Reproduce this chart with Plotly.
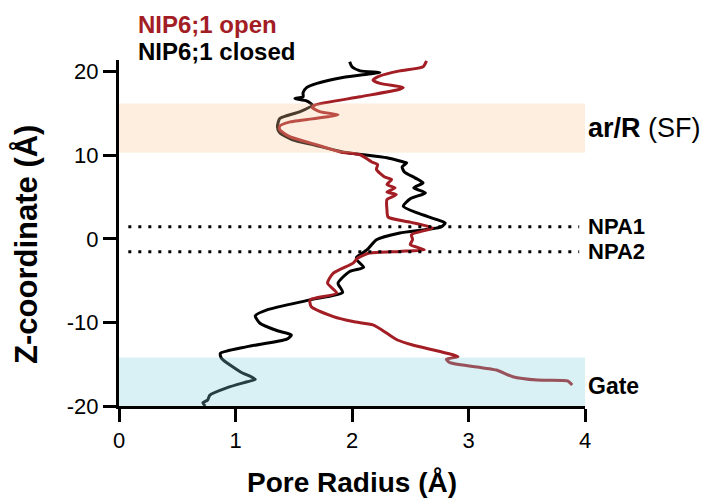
import plotly.graph_objects as go

# NIP6;1 open (red) : pore radius (Å) vs z-coordinate (Å)
open_radius = [2.64, 2.61, 2.41, 2.24, 2.18, 2.24, 2.44, 2.41, 2.07, 1.68, 1.66, 1.73, 1.88, 1.79,
               1.47, 1.38, 1.38, 1.47, 1.70, 1.90, 2.07, 2.17, 2.22, 2.21, 2.28, 2.34, 2.30, 2.37,
               2.30, 2.38, 2.30, 2.30, 2.31, 2.50, 2.69, 2.51, 2.52, 2.50, 2.62, 2.41, 2.15, 2.05,
               2.01, 1.84, 1.79, 1.87, 1.64, 1.65, 1.84, 2.01, 2.18, 2.30, 2.39, 2.52, 2.91, 2.81,
               2.84, 3.24, 3.38, 3.59, 3.85, 3.89]
open_z = [21.3, 20.6, 20.1, 19.5, 19.0, 18.6, 18.1, 17.9, 17.0, 16.0, 15.7, 15.2, 14.85, 14.6,
          14.0, 13.5, 13.05, 12.2, 11.25, 10.4, 10.06, 9.2, 8.9, 8.3, 7.4, 7.1, 6.5, 6.1,
          5.6, 5.3, 4.7, 3.5, 2.6, 2.0, 1.3, 0.5, -0.1, -0.7, -1.3, -1.5, -1.7, -2.3,
          -2.9, -4.1, -5.3, -6.5, -7.3, -8.1, -9.3, -9.9, -10.3, -11.3, -12.1, -12.7, -14.1, -14.4,
          -14.8, -15.7, -16.5, -16.9, -17.0, -17.5]

# NIP6;1 closed (black)
closed_radius = [1.98, 2.00, 2.07, 2.24, 2.13, 1.92, 1.70, 1.61, 1.58, 1.58, 1.51, 1.61, 1.66, 1.55,
                 1.38, 1.36, 1.38, 1.49, 1.67, 1.92, 2.30, 2.44, 2.47, 2.43, 2.45, 2.54, 2.61, 2.53,
                 2.63, 2.50, 2.44, 2.56, 2.73, 2.80, 2.76, 2.41, 2.21, 2.13, 2.04, 2.04, 2.10, 1.98,
                 1.88, 1.92, 1.64, 1.27, 1.17, 1.21, 1.36, 1.48, 1.44, 1.10, 0.87, 0.88, 1.04, 1.17,
                 1.10, 0.93, 0.78, 0.76, 0.72, 0.74]
closed_z = [21.2, 20.6, 20.1, 19.9, 19.7, 19.3, 18.6, 18.1, 17.5, 17.0, 16.8, 16.5, 16.0, 15.2,
            14.4, 13.4, 12.7, 11.85, 11.25, 10.4, 9.7, 9.2, 9.1, 8.6, 8.0, 7.3, 6.7, 6.1,
            5.5, 4.8, 3.9, 3.1, 2.3, 1.9, 1.4, 0.7, -0.1, -1.3, -2.2, -2.5, -3.4, -3.9,
            -5.3, -6.4, -7.3, -8.5, -9.2, -10.1, -11.0, -11.5, -12.0, -12.9, -13.7, -14.3, -15.9, -16.8,
            -17.1, -17.8, -18.7, -19.3, -19.6, -20.0]

# Regions (z ranges) and constriction markers
sf_region = [10.3, 16.2]
gate_region = [-20.0, -14.2]
npa_levels = [1.45, -1.55]
npa_labels = ["NPA1", "NPA2"]

# tick labels
x_ticks = [0, 1, 2, 3, 4]
y_ticks = [-20, -10, 0, 10, 20]
y_ticktext = ["-20", "-10", "0", "10", "20"]

RED = "#A31D24"
FONT = "Arial, Liberation Sans, Helvetica, sans-serif"

fig = go.Figure()
fig.add_trace(go.Scatter(x=closed_radius, y=closed_z, mode="lines",
                         line=dict(color="black", width=3, shape="spline", smoothing=0.6),
                         name="NIP6;1 closed", showlegend=False))
fig.add_trace(go.Scatter(x=open_radius, y=open_z, mode="lines",
                         line=dict(color=RED, width=3, shape="spline", smoothing=0.6),
                         name="NIP6;1 open", showlegend=False))

# shaded regions (drawn above lines, semi-transparent)
fig.add_shape(type="rect", xref="x", yref="y", x0=0, x1=4, y0=sf_region[0], y1=sf_region[1],
              fillcolor="rgba(250,200,150,0.3)", line=dict(width=0), layer="above")
fig.add_shape(type="rect", xref="x", yref="y", x0=0, x1=4, y0=gate_region[0], y1=gate_region[1],
              fillcolor="rgba(130,205,218,0.3)", line=dict(width=0), layer="above")

for lvl in npa_levels:
    fig.add_shape(type="line", xref="x", yref="y", x0=0.08, x1=3.95, y0=lvl, y1=lvl,
                  line=dict(color="black", width=3, dash="3px,7px"))

# right-hand labels
fig.add_annotation(x=4, y=sum(sf_region) / 2, xref="x", yref="y", xanchor="left", yanchor="middle",
                   xshift=1, showarrow=False, text="<b>ar/R</b> (SF)",
                   font=dict(family=FONT, size=27, color="black"))
for lvl, lab in zip(npa_levels, npa_labels):
    fig.add_annotation(x=4, y=lvl, xref="x", yref="y", xanchor="left", yanchor="middle",
                       xshift=1, showarrow=False, text=f"<b>{lab}</b>",
                       font=dict(family=FONT, size=22, color="black"))
fig.add_annotation(x=4, y=-17.6, xref="x", yref="y", xanchor="left", yanchor="middle",
                   xshift=1, showarrow=False, text="<b>Gate</b>",
                   font=dict(family=FONT, size=23, color="black"))

# legend labels
fig.add_annotation(x=0.036, y=1.104, xref="paper", yref="paper", xanchor="left", yanchor="middle",
                   showarrow=False, text="<b>NIP6;1 open</b>",
                   font=dict(family=FONT, size=24, color=RED))
fig.add_annotation(x=0.036, y=1.026, xref="paper", yref="paper", xanchor="left", yanchor="middle",
                   showarrow=False, text="<b>NIP6;1 closed</b>",
                   font=dict(family=FONT, size=24, color="black"))

# axis titles
fig.add_annotation(x=0.5, y=-0.2225, xref="paper", yref="paper", xanchor="center", yanchor="middle",
                   showarrow=False, text="<b>Pore Radius (Å)</b>",
                   font=dict(family=FONT, size=28, color="black"))
fig.add_annotation(x=-0.197, y=0.466, xref="paper", yref="paper", xanchor="center", yanchor="middle",
                   showarrow=False, text="<b>Z-coordinate (Å)</b>", textangle=-90,
                   font=dict(family=FONT, size=31, color="black"))

# page body has an 8px offset; size the figure so the plot area lands where the reference has it
fig.update_layout(
    width=703, height=494,
    margin=dict(l=111, r=126, t=52, b=96),
    paper_bgcolor="white", plot_bgcolor="white",
    font=dict(family=FONT, color="black"),
)
fig.update_xaxes(range=[0, 4], tickvals=x_ticks, showgrid=False, zeroline=False, automargin=False,
                 showline=True, linecolor="black", linewidth=3,
                 ticks="outside", ticklen=13, tickwidth=3, tickcolor="black",
                 tickfont=dict(family=FONT, size=22, color="black"))
fig.update_yaxes(range=[-20, 21.4], tickvals=y_ticks, ticktext=y_ticktext, showgrid=False, zeroline=False,
                 automargin=False,
                 showline=True, linecolor="black", linewidth=3,
                 ticks="outside", ticklen=13, tickwidth=3, tickcolor="black",
                 tickfont=dict(family=FONT, size=22, color="black"))

fig.write_html("out.html")
